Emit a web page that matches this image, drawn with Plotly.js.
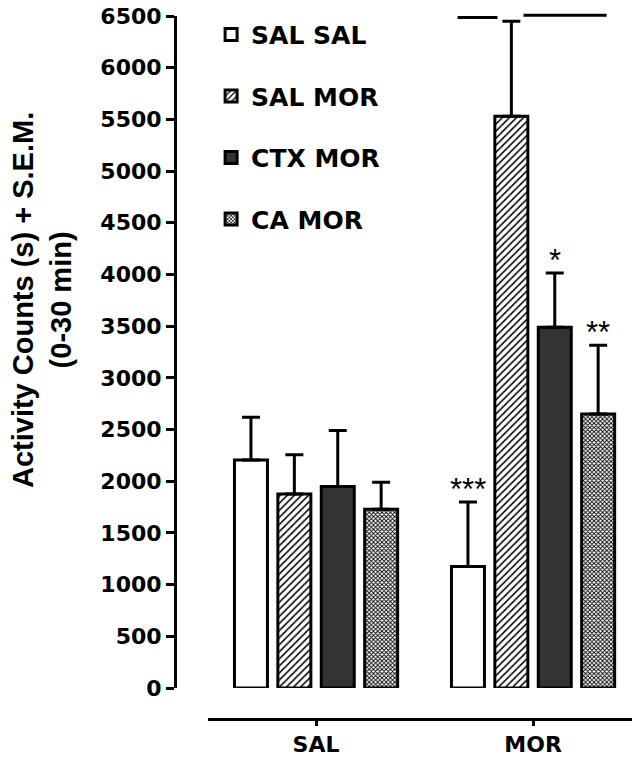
<!DOCTYPE html>
<html>
<head>
<meta charset="utf-8">
<script src="https://cdn.plot.ly/plotly-3.0.1.min.js"></script>
<style>html,body{margin:0;padding:0;background:#fff;}#chart{width:632px;height:759px;}</style>
</head>
<body>
<div id="chart"></div>
<script>
// ---- data ----
var categories = ['SAL', 'MOR'];
var seriesNames = ['SAL SAL', 'SAL MOR', 'CTX MOR', 'CA MOR'];
var salSal = [2205, 1175];
var salMor = [1876, 5530];
var ctxMor = [1950, 3490];
var caMor  = [1730, 2650];
var salSalSem = [415, 625];
var salMorSem = [380, 920];
var ctxMorSem = [540, 525];
var caMorSem  = [260, 665];
var noSem = [0, 0];
var yTicks = [0, 500, 1000, 1500, 2000, 2500, 3000, 3500, 4000, 4500, 5000, 5500, 6000, 6500];
var sigLabels = [
  {series: 0, cat: 'MOR', text: '***'},
  {series: 2, cat: 'MOR', text: '*'},
  {series: 3, cat: 'MOR', text: '**'}
];

var values = [salSal, salMor, ctxMor, caMor];
var sems = [salSalSem, salMorSem, ctxMorSem, caMorSem];

var styles = [
  {color: '#ffffff'},
  {color: '#ffffff', pattern: {shape: '/', fgcolor: '#000000', bgcolor: '#ffffff', size: 5, solidity: 0.3}},
  {color: '#333333'},
  {color: '#ffffff', pattern: {shape: 'x', fgcolor: '#000000', bgcolor: '#ffffff', size: 3, solidity: 0.5}}
];

var traces = seriesNames.map(function (name, i) {
  var m = {color: styles[i].color, line: {color: '#000000', width: 3}};
  if (styles[i].pattern) m.pattern = styles[i].pattern;
  return {
    type: 'bar',
    name: name,
    legendgroup: 'g' + i,
    x: categories,
    y: values[i],
    marker: m,
    error_y: {type: 'data', symmetric: false, array: sems[i], arrayminus: noSem,
              color: '#000000', thickness: 3, width: 9},
    hoverinfo: 'skip'
  };
});

var boldFont = 'DejaVu Sans, Verdana, sans-serif';
var pitchPx = 43.4;

var annotations = sigLabels.map(function (s) {
  var ci = categories.indexOf(s.cat);
  var top = values[s.series][ci] + sems[s.series][ci];
  return {
    x: s.cat, y: top, xref: 'x', yref: 'y',
    text: s.text, showarrow: false,
    xshift: (s.series - 1.5) * pitchPx,
    yanchor: 'bottom', yshift: -7,
    font: {family: 'Liberation Sans, Arial, sans-serif', size: 31, color: '#000'}
  };
});

annotations.push({
  xref: 'paper', yref: 'paper', x: -0.291, y: 0.596,
  xanchor: 'center', yanchor: 'middle',
  text: '<b>Activity Counts (s) + S.E.M.</b><br><b>(0-30 min)</b>',
  textangle: -90, showarrow: false,
  font: {family: 'Liberation Sans, Arial, sans-serif', size: 29, color: '#000'}
});

var layout = {
  width: 632, height: 759,
  margin: {l: 175, r: 0, t: 16, b: 40},
  paper_bgcolor: '#ffffff', plot_bgcolor: '#ffffff',
  barmode: 'group', bargap: 0.2, bargroupgap: 0.24,
  showlegend: true,
  legend: {
    x: 0.079, y: 1.006, xanchor: 'left', yanchor: 'top',
    traceorder: 'grouped', tracegroupgap: 26,
    font: {family: boldFont, size: 25, color: '#000', weight: 'bold'},
    bgcolor: 'rgba(0,0,0,0)'
  },
  xaxis: {
    domain: [0.0722, 1], anchor: 'free', position: 0,
    range: [-0.498, 1.456], type: 'category',
    showline: true, linecolor: '#000', linewidth: 3,
    ticks: 'outside', ticklen: 5, tickwidth: 3, tickcolor: '#000',
    ticklabelstandoff: 0,
    showgrid: false, zeroline: false,
    tickfont: {family: boldFont, size: 22, color: '#000', weight: 'bold'}
  },
  yaxis: {
    domain: [0.0441, 1], anchor: 'free', position: 0,
    range: [0, 6500], tickvals: yTicks, ticktext: yTicks.map(String),
    showline: true, linecolor: '#000', linewidth: 3,
    ticks: 'outside', ticklen: 8, tickwidth: 3, tickcolor: '#000',
    showgrid: false, zeroline: false,
    tickfont: {family: boldFont, size: 22, color: '#000', weight: 'bold'}
  },
  shapes: [
    {type: 'line', xref: 'x', yref: 'paper', x0: 0.652, x1: 0.836, y0: 0.998, y1: 0.998,
     line: {color: '#000', width: 3}},
    {type: 'line', xref: 'x', yref: 'paper', x0: 0.956, x1: 1.339, y0: 1.001, y1: 1.001,
     line: {color: '#000', width: 3}}
  ],
  annotations: annotations
};

Plotly.newPlot('chart', traces, layout, {displayModeBar: false, staticPlot: true});
</script>
</body>
</html>
